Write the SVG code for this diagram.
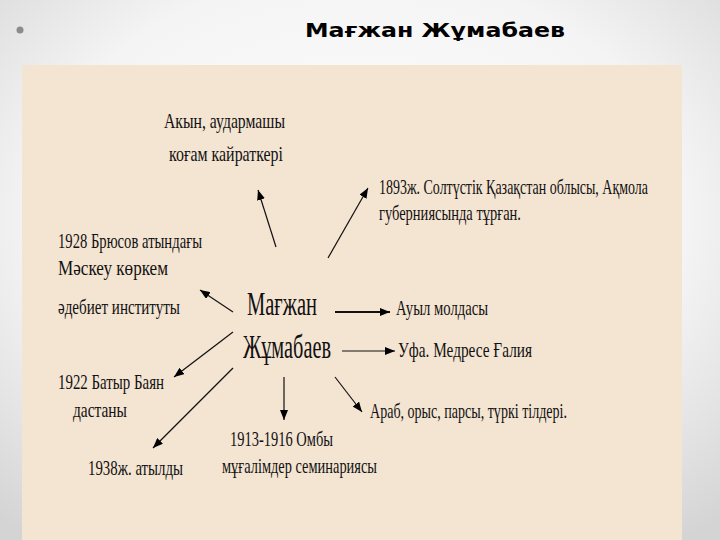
<svg xmlns="http://www.w3.org/2000/svg" width="720" height="540" viewBox="0 0 720 540">
<defs>
<radialGradient id="bg" cx="50%" cy="40%" r="75%">
<stop offset="0" stop-color="#ffffff"/>
<stop offset="0.6" stop-color="#f4f4f4"/>
<stop offset="1" stop-color="#d4d4d4"/>
</radialGradient>
<marker id="ah" viewBox="0 0 10 8" refX="10" refY="4" markerWidth="10" markerHeight="8" markerUnits="userSpaceOnUse" orient="auto">
<path d="M0,0 L10,4 L0,8 z" fill="#000"/>
</marker>
<style>
.t{font-family:"Liberation Serif","DejaVu Serif","Times New Roman",serif;font-size:21px;fill:#111}
.c{font-family:"Liberation Serif","DejaVu Serif","Times New Roman",serif;font-size:34px;fill:#111}
.l{stroke:#111;stroke-width:1.2;fill:none;marker-end:url(#ah)}
.h{stroke:#111;stroke-width:2;fill:none;marker-end:url(#ah)}
</style>
</defs>
<rect width="720" height="540" fill="url(#bg)"/>
<circle cx="20" cy="30" r="3.5" fill="#8c8c8c"/>
<text x="305" y="37" font-family="DejaVu Sans, sans-serif" font-weight="bold" font-size="20" textLength="260" lengthAdjust="spacingAndGlyphs" fill="#000">Мағжан Жұмабаев</text>
<rect x="22" y="65" width="660" height="475" fill="#f4e4d2"/>
<g id="connectors">
<line class="l" x1="276" y1="247" x2="258" y2="190"/>
<line class="l" x1="328" y1="258" x2="368" y2="188"/>
<line class="l" x1="233" y1="312" x2="200" y2="290"/>
<line class="l" x1="233" y1="332" x2="174" y2="377"/>
<line class="l" x1="233" y1="368" x2="153" y2="448"/>
<line class="l" x1="284" y1="377" x2="284" y2="420"/>
<line class="l" x1="335" y1="377" x2="362" y2="412"/>
<line class="h" x1="335" y1="312" x2="390" y2="312"/>
<line class="l" x1="342" y1="351" x2="395" y2="351"/>
</g>
<g id="center">
<text class="c" x="247" y="315" textLength="70" lengthAdjust="spacingAndGlyphs">Мағжан</text>
<text class="c" x="243" y="358" textLength="88" lengthAdjust="spacingAndGlyphs">Жұмабаев</text>
</g>
<g id="akyn">
<text class="t" x="164" y="128" textLength="121" lengthAdjust="spacingAndGlyphs">Акын, аудармашы</text>
<text class="t" x="169" y="161" textLength="114" lengthAdjust="spacingAndGlyphs">коғам кайраткері</text>
</g>
<g id="born">
<text class="t" x="379" y="194" textLength="269" lengthAdjust="spacingAndGlyphs">1893ж. Солтүстік Қазақстан облысы, Ақмола</text>
<text class="t" x="379" y="220" textLength="142" lengthAdjust="spacingAndGlyphs">губерниясында тұрған.</text>
</g>
<g id="moscow">
<text class="t" x="58" y="248" textLength="144" lengthAdjust="spacingAndGlyphs">1928 Брюсов атындағы</text>
<text class="t" x="58" y="275" textLength="110" lengthAdjust="spacingAndGlyphs">Мәскеу көркем</text>
<text class="t" x="58" y="314" textLength="122" lengthAdjust="spacingAndGlyphs">әдебиет институты</text>
</g>
<g id="auyl">
<text class="t" x="396" y="315" textLength="92" lengthAdjust="spacingAndGlyphs">Ауыл молдасы</text>
</g>
<g id="ufa">
<text class="t" x="398" y="357" textLength="134" lengthAdjust="spacingAndGlyphs">Уфа. Медресе Ғалия</text>
</g>
<g id="langs">
<text class="t" x="370" y="418" textLength="197" lengthAdjust="spacingAndGlyphs">Араб, орыс, парсы, түркі тілдері.</text>
</g>
<g id="batyr">
<text class="t" x="58" y="389" textLength="106" lengthAdjust="spacingAndGlyphs">1922 Батыр Баян</text>
<text class="t" x="73" y="417" textLength="54" lengthAdjust="spacingAndGlyphs">дастаны</text>
</g>
<g id="omby">
<text class="t" x="230" y="446" textLength="103" lengthAdjust="spacingAndGlyphs">1913-1916 Омбы</text>
<text class="t" x="222" y="473" textLength="155" lengthAdjust="spacingAndGlyphs">мұғалімдер семинариясы</text>
</g>
<g id="shot">
<text class="t" x="88" y="475" textLength="95" lengthAdjust="spacingAndGlyphs">1938ж. атылды</text>
</g>
</svg>
